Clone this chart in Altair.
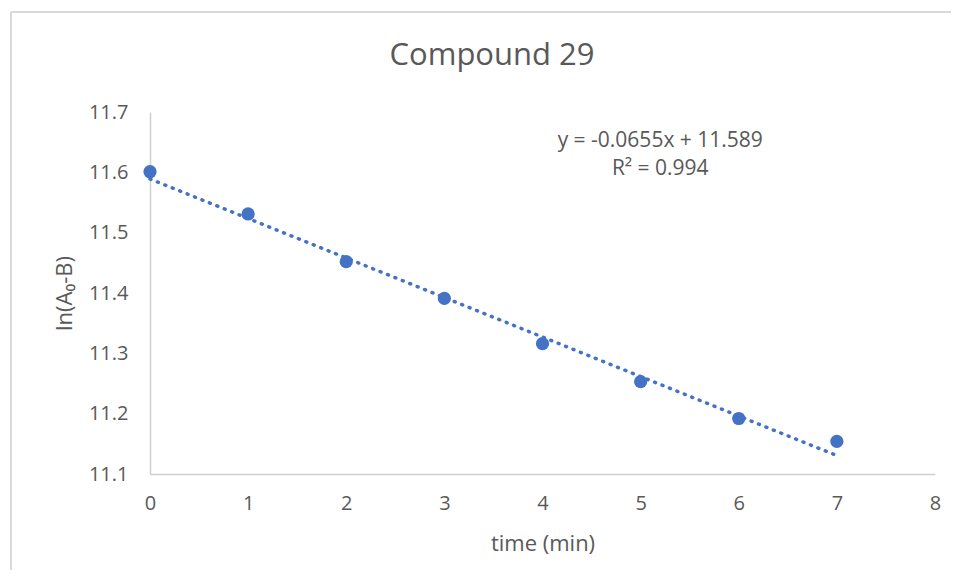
import altair as alt
import pandas as pd

time_min = [0, 1, 2, 3, 4, 5, 6, 7]
ln_vals = [11.601, 11.531, 11.452, 11.391, 11.316, 11.253, 11.192, 11.154]
trend_x = [0, 7]
trend_y = [11.589, 11.1305]
eq_lines = ["y = -0.0655x + 11.589", "R² = 0.994"]
eq_x = [5.2, 5.2]
eq_y = [11.652, 11.606]
chart_title = "Compound 29"

pts = pd.DataFrame({"t": time_min, "v": ln_vals})
trend = pd.DataFrame({"t": trend_x, "v": trend_y})
eq = pd.DataFrame({"t": eq_x, "v": eq_y, "label": eq_lines})

FONT = "Open Sans"
GREY = "#595959"
BLUE = "#4472C4"

xs = alt.X("t:Q", scale=alt.Scale(domain=[0, 8], nice=False),
           axis=alt.Axis(title="time (min)", values=list(range(9)), format="d", grid=False,
                         ticks=False, domainColor="#D0D0D0", domainWidth=1.5,
                         labelFlush=False, labelPadding=19, labelFontSize=20, labelColor=GREY,
                         titleFontSize=22, titleColor=GREY, titleFontWeight="normal",
                         titlePadding=20, labelFont=FONT, titleFont=FONT))
ys = alt.Y("v:Q", scale=alt.Scale(domain=[11.1, 11.7], nice=False, zero=False),
           axis=alt.Axis(title="ln(A₀-B)", values=[11.1, 11.2, 11.3, 11.4, 11.5, 11.6, 11.7],
                         format=".1f", grid=False, ticks=False, domainColor="#D0D0D0",
                         domainWidth=1.5, labelPadding=22, labelFontSize=20,
                         labelFlush=False, labelColor=GREY, titleFontSize=22, titleColor=GREY,
                         titleFontWeight="normal", titlePadding=12,
                         labelFont=FONT, titleFont=FONT))

one = pd.DataFrame({"k": [0]})
frame_top = alt.Chart(one).mark_rule(stroke="#D9D9D9", strokeWidth=2).encode(
    x=alt.value(-139), x2=alt.value(900), y=alt.value(-100))
frame_left = alt.Chart(one).mark_rule(stroke="#D9D9D9", strokeWidth=2).encode(
    x=alt.value(-139), y=alt.value(-100), y2=alt.value(600))
title = alt.Chart(pd.DataFrame({"label": [chart_title]})).mark_text(
    font=FONT, fontSize=31, color=GREY, align="center", baseline="alphabetic").encode(
    x=alt.value(342), y=alt.value(-47), text="label:N")
line = alt.Chart(trend).mark_line(color=BLUE, strokeDash=[1, 7], strokeWidth=3.5,
                                  strokeCap="round").encode(x=xs, y=ys)
points = alt.Chart(pts).mark_circle(color=BLUE, size=175, opacity=1).encode(x="t:Q", y="v:Q")
text = alt.Chart(eq).mark_text(font=FONT, fontSize=21, color=GREY).encode(
    x="t:Q", y="v:Q", text="label:N")

chart = alt.layer(line, frame_top, frame_left, title, points, text).properties(
    width=785, height=362,
    autosize=alt.AutoSizeParams(type="none"),
    padding={"left": 142, "top": 104, "right": 16, "bottom": 96},
).configure_view(stroke=None)

chart.save("out.html", embed_options={"renderer": "svg", "actions": False})
